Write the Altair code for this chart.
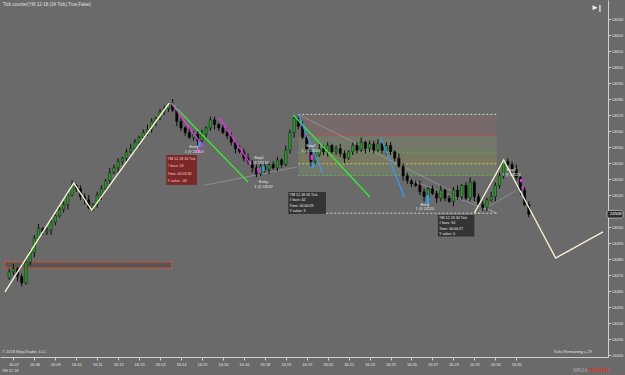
import altair as alt
import pandas as pd

# ---------------- data ----------------
closes = [24472,24474,24469,24465,24478,24484,24493,24499,24497,24498,
          24503,24507,24511,24514,24520,24526,24524,24519,24517,24512,
          24514,24520,24524,24529,24534,24537,24541,24543,24547,24549,
          24553,24556,24559,24561,24566,24568,24572,24574,24577,24573,
          24566,24562,24559,24556,24558,24554,24558,24562,24567,24564,
          24562,24559,24557,24553,24549,24547,24543,24541,24537,24533,
          24538,24536,24539,24537,24542,24539,24548,24559,24568,24563,
          24556,24548,24541,24545,24549,24547,24551,24547,24549,24546,
          24543,24547,24551,24548,24553,24549,24552,24548,24552,24548,
          24551,24547,24543,24538,24532,24529,24527,24526,24522,24519,
          24524,24521,24518,24523,24518,24516,24523,24519,24526,24518,
          24528,24519,24514,24512,24517,24519,24526,24532,24541,24539,
          24536,24531,24523,24514,24508]
up_wick = [2,3,1,2,3,2,2,3,1,2, 2,1,3,2,2,3,1,2,2,3, 1,2,2,1,3,2,2,1,2,3,
           2,1,2,3,2,1,2,2,1,3, 2,2,1,3,2,2,3,1,2,2, 1,2,3,2,1,2,2,3,1,2,
           2,3,1,2,2,1,3,2,1,2, 3,2,1,2,3,2,2,1,2,3, 2,1,2,2,3,1,2,2,3,1,
           2,2,1,3,2,2,1,2,3,2, 1,2,2,3,1,2,2,3,1,2, 3,1,2,2,1,3,2,2,1,2,
           2,3,1,2,2]
lo_wick = [1,2,3,2,1,2,3,1,2,2, 3,2,1,2,3,1,2,2,3,1, 2,2,3,1,2,1,3,2,2,1,
           2,3,1,2,2,3,1,2,2,1, 3,2,2,1,2,3,1,2,2,3, 2,1,2,2,3,1,2,2,3,2,
           1,2,3,1,2,2,1,2,3,2, 1,2,3,2,1,2,3,1,2,2, 3,1,2,2,1,3,2,2,1,2,
           3,2,2,1,3,2,2,1,2,3, 2,1,3,2,2,1,3,2,2,1, 2,3,1,2,2,1,3,2,2,1,
           2,2,3,1,2]
first_open = 24468

time_labels = ["16:07","16:08","16:09","16:10","16:11","16:12","16:13","16:13",
               "16:14","16:15","16:16","16:16","16:18","16:19","16:19","16:20",
               "16:21","16:23","16:25","16:26","16:27","16:29","16:31","16:34",
               "16:35"]
tick_bars = [2,7,12,17,22,27,32,37,42,47,52,57,62,67,72,77,82,87,92,97,102,107,112,117,122]
# 24510 is hidden behind the last-price tag in the reference
price_ticks = [24420,24430,24440,24450,24460,24470,24480,24490,24500,
               24520,24530,24540,24550,24560,24570,24580,24590,24600,24610,24620,24630]

# zigzag (white) vertices
zz_a_bar = [0, 16.4, 20.7, 39.2]
zz_a_price = [24459.4, 24527.5, 24510.6, 24577.5]
zz_b_bar = [112.0, 119.0, 131.4, 142.7]
zz_b_price = [24508.75, 24541.9, 24480.6, 24496.9]

# drawn trend lines: (bar1, price1, bar2, price2, color)
trend_lines = [
    (39.7, 24577.5, 58.0, 24528.1, "#33ee33"),
    (68.8, 24570.0, 87.1, 24518.8, "#33ee33"),
    (39.7, 24577.5, 47.4, 24550.0, "#ee33ee"),
    (51.2, 24568.1, 58.7, 24538.8, "#ee33ee"),
    (69.9, 24570.6, 75.8, 24533.8, "#3399ff"),
    (89.7, 24555.6, 95.3, 24518.8, "#3399ff"),
]
faint_lines = [
    (69.9, 24570.4, 117.4, 24508.6),
    (47.4, 24526.0, 69.6, 24537.5),
    (96.2, 24530.0, 117.4, 24508.6),
    (112.7, 24508.6, 122.0, 24523.0),
]

# fibonacci retracement tool
fib_low, fib_high = 24508.6, 24570.4
fib_levels = [0.0, 0.382, 0.5, 0.618, 0.786, 1.0]
fib_colors = ["#cfcfcf", "#55b455", "#e0d040", "#55b455", "#d04040", "#cfcfcf"]
fib_start, fib_end = 70.0, 117.4

# order-flow markers
magenta_marks = [(46.2, 24549.0, 24546.0), (60.5, 24537.0, 24534.0),
                 (73.2, 24545.0, 24542.0), (123.2, 24530.0, 24528.0), (123.5, 24525.0, 24524.0)]
blue_marks = [(46.4, 24553.0, 24550.0), (61.7, 24538.0, 24535.0),
              (73.5, 24540.0, 24537.0), (100.9, 24520.0, 24514.0)]

labels_exec = [
    (45.1, 24550.0, "Entry"), (45.1, 24547.2, "1 @ 24553"),
    (60.6, 24543.1, "Stop1"), (60.6, 24540.3, "1 @ 24530"),
    (61.7, 24528.1, "Entry"), (61.7, 24525.3, "1 @ 24537"),
    (73.0, 24550.6, "Stop1"), (73.0, 24547.8, "1 @ 24530"),
    (100.2, 24513.8, "Entry"), (100.2, 24511.0, "1 @ 24520"),
    (120.8, 24535.6, "Stop1"), (120.8, 24532.8, "1 @ 24523"),
]

# measuring boxes: (bar1, bar2, price_top, price_bottom, fill, lines)
info_boxes = [
    (38.5, 45.8, 24545.0, 24526.3, "#7e1c1c",
     ["YM 12-18 34 Tick", "# bars:      53", "Time:      00:03:30", "Y value:    -30"]),
    (67.6, 76.6, 24521.9, 24508.2, "#2a2a2a",
     ["YM 12-18 34 Tick", "# bars:      42", "Time:      00:00:59", "Y value:    3"]),
    (103.3, 112.0, 24507.5, 24494.0, "#2a2a2a",
     ["YM 12-18 34 Tick", "# bars:      50", "Time:      00:00:27", "Y value:    0"]),
]

zone_bar = (0, 39.7)
zone_price = (24474.4, 24478.1)
last_price = 24508

# ---------------- frames ----------------
opens = [first_open] + closes[:-1]
candles = pd.DataFrame({
    "bar": list(range(1, len(closes) + 1)),
    "open": opens,
    "close": closes,
})
candles["high"] = [max(o, c) + w for o, c, w in zip(opens, closes, up_wick)]
candles["low"] = [min(o, c) - w for o, c, w in zip(opens, closes, lo_wick)]
candles["dir"] = ["up" if c >= o else "down" for o, c in zip(opens, closes)]

BG = "#6a6a6a"
FONT = "Liberation Sans"
x_scale = alt.Scale(domain=[0, 142.7], nice=False, zero=False)
y_scale = alt.Scale(domain=[24418.75, 24641.9], nice=False, zero=False)
label_expr = "[" + ",".join("'%s'" % t for t in time_labels) + "][round((datum.value-2)/5)]"
x_axis = alt.Axis(values=tick_bars, labelExpr=label_expr, title=None, grid=False,
                  labelFontSize=4, labelColor="#e4e4e4", labelFont=FONT, tickSize=3,
                  tickColor="#cfcfcf", domainColor="#cfcfcf", labelPadding=2)
y_axis = alt.Axis(values=price_ticks, orient="right", format="d", title=None, grid=False,
                  labelFontSize=4, labelColor="#e4e4e4", labelFont=FONT, tickSize=2.5,
                  tickColor="#cfcfcf", domainColor="#cfcfcf", labelPadding=1)


def X(f):
    return alt.X(f"{f}:Q", scale=x_scale, axis=x_axis)


def Y(f):
    return alt.Y(f"{f}:Q", scale=y_scale, axis=y_axis)


layers = []

# fib shaded bands
bands = pd.DataFrame({
    "b1": [fib_start] * 4, "b2": [fib_end] * 4,
    "p1": [fib_low + fib_levels[i] * (fib_high - fib_low) for i in [1, 2, 3, 4]],
    "p2": [fib_low + fib_levels[i] * (fib_high - fib_low) for i in [2, 3, 4, 5]],
    "c": ["#7e8a6c", "#8a8a5c", "#7e8a6c", "#8a6a6a"],
})
layers.append(alt.Chart(bands).mark_rect(opacity=0.45).encode(
    x=X("b1"), x2="b2", y=Y("p1"), y2="p2", color=alt.Color("c:N", scale=None)))

# red zone
zone = pd.DataFrame({"b1": [zone_bar[0]], "b2": [zone_bar[1]], "p1": [zone_price[0]], "p2": [zone_price[1]]})
layers.append(alt.Chart(zone).mark_rect(fill="#565656", stroke="#ff4a1a", strokeWidth=1,
                                        strokeDash=[2, 1]).encode(
    x=X("b1"), x2="b2", y=Y("p1"), y2="p2"))

# fib lines
fibdf = pd.DataFrame({
    "b1": [fib_start] * 6, "b2": [fib_end] * 6,
    "p": [fib_low + l * (fib_high - fib_low) for l in fib_levels],
    "c": fib_colors,
})
layers.append(alt.Chart(fibdf).mark_rule(strokeDash=[2, 2], strokeWidth=1).encode(
    x=X("b1"), x2="b2", y=Y("p"), color=alt.Color("c:N", scale=None)))

# faint lines
fl = pd.DataFrame([{"id": i, "bar": b, "price": p} for i, (b1, p1, b2, p2) in enumerate(faint_lines)
                   for b, p in [(b1, p1), (b2, p2)]])
layers.append(alt.Chart(fl).mark_line(color="#a8a8a8", strokeWidth=0.7, opacity=0.8).encode(
    x=X("bar"), y=Y("price"), detail="id:N"))

# candles
layers.append(alt.Chart(candles).mark_rule(color="#0c0c0c", strokeWidth=1).encode(
    x=X("bar"), y=Y("low"), y2="high"))
layers.append(alt.Chart(candles).mark_bar(size=2.4, stroke="#000000", strokeWidth=0.4).encode(
    x=X("bar"), y=Y("open"), y2="close",
    color=alt.Color("dir:N", scale=alt.Scale(domain=["up", "down"], range=["#1fa51f", "#050505"]),
                    legend=None)))

# trend lines
tl = pd.DataFrame([{"id": i, "bar": b, "price": p, "c": c}
                   for i, (b1, p1, b2, p2, c) in enumerate(trend_lines)
                   for b, p in [(b1, p1), (b2, p2)]])
layers.append(alt.Chart(tl).mark_line(strokeWidth=1.3).encode(
    x=X("bar"), y=Y("price"), detail="id:N", color=alt.Color("c:N", scale=None)))

# zigzag
zz = pd.DataFrame({"bar": zz_a_bar + zz_b_bar, "price": zz_a_price + zz_b_price,
                   "seg": ["a"] * 4 + ["b"] * 4, "o": list(range(8))})
layers.append(alt.Chart(zz).mark_line(color="#f4f0d0", strokeWidth=1.4).encode(
    x=X("bar"), y=Y("price"), detail="seg:N", order="o:Q"))

# markers
mm = pd.DataFrame([{"bar": b, "p1": p1, "p2": p2, "c": "#ff22ff"} for b, p1, p2 in magenta_marks] +
                  [{"bar": b, "p1": p1, "p2": p2, "c": "#2aa0ff"} for b, p1, p2 in blue_marks])
layers.append(alt.Chart(mm).mark_rule(strokeWidth=2.5).encode(
    x=X("bar"), y=Y("p1"), y2="p2", color=alt.Color("c:N", scale=None)))

# execution labels
ex = pd.DataFrame([{"bar": b, "price": p, "t": t} for b, p, t in labels_exec])
layers.append(alt.Chart(ex).mark_text(fontSize=3.8, font=FONT, color="#e8e8e8", align="center",
                                      baseline="middle").encode(x=X("bar"), y=Y("price"), text="t:N"))

# info boxes
ib = pd.DataFrame([{"b1": b1, "b2": b2, "p1": pt, "p2": pb, "c": c} for b1, b2, pt, pb, c, _ in info_boxes])
layers.append(alt.Chart(ib).mark_rect(opacity=0.85).encode(
    x=X("b1"), x2="b2", y=Y("p1"), y2="p2", color=alt.Color("c:N", scale=None)))
it_rows = []
for b1, b2, pt, pb, c, lines in info_boxes:
    step = (pt - pb) / 4.0
    for k, line in enumerate(lines):
        it_rows.append({"bar": b1 + 0.3, "price": pt - step * (k + 0.5), "t": line,
                        "c": "#ffd0d0" if c == "#7e1c1c" else "#ececec"})
it = pd.DataFrame(it_rows)
layers.append(alt.Chart(it).mark_text(fontSize=3.6, font=FONT, align="left", baseline="middle").encode(
    x=X("bar"), y=Y("price"), text="t:N", color=alt.Color("c:N", scale=None)))

# last price tag
lp = pd.DataFrame({"p": [last_price], "p1": [last_price - 2.4], "p2": [last_price + 2.4], "t": [str(last_price)]})
layers.append(alt.Chart(lp).mark_rect(fill="#2e2e2e", stroke="#dddddd", strokeWidth=0.6,
                                      cornerRadius=2).encode(
    x=alt.value(607), x2=alt.value(623), y=Y("p1"), y2="p2"))
layers.append(alt.Chart(lp).mark_text(fontSize=4.2, font=FONT, color="#ffffff", align="left",
                                      baseline="middle").encode(x=alt.value(610), y=Y("p"), text="t:N"))

# fixed texts
one = pd.DataFrame({"a": [0]})


def fixed_text(txt, x, y, size=5, color="#e0e0e0", align="left", weight="normal"):
    return alt.Chart(one).mark_text(text=txt, fontSize=size, font=FONT, color=color, align=align,
                                    baseline="middle", fontWeight=weight).encode(
        x=alt.value(x), y=alt.value(y))


layers.append(fixed_text("Tick counter(YM 12-18 (34 Tick),True,False)", 3, 5, size=4.5))
layers.append(fixed_text("\u00a9 2018 NinjaTrader, LLC", 2, 352, size=4))
layers.append(fixed_text("Ticks Remaining = 29", 592, 352, size=4, align="right"))
layers.append(fixed_text("YM 12-18", 2, 371, size=3.8))
layers.append(fixed_text("\u25ba|", 596, 8, size=8, color="#f0f0f0", align="center", weight="bold"))
layers.append(fixed_text("NINJA", 588, 370, size=5, color="#9a9a9a", align="right", weight="bold"))
layers.append(fixed_text("TRADER", 588, 370, size=5, color="#d43a2a", align="left", weight="bold"))

chart = alt.layer(*layers).properties(
    width=608, height=357, background=BG,
    padding={"left": 0, "top": 0, "right": 17, "bottom": 18},
    autosize=alt.AutoSizeParams(type="none"),
).configure_view(strokeWidth=0)

chart.save("out.html", embed_options={"renderer": "svg", "actions": False})
